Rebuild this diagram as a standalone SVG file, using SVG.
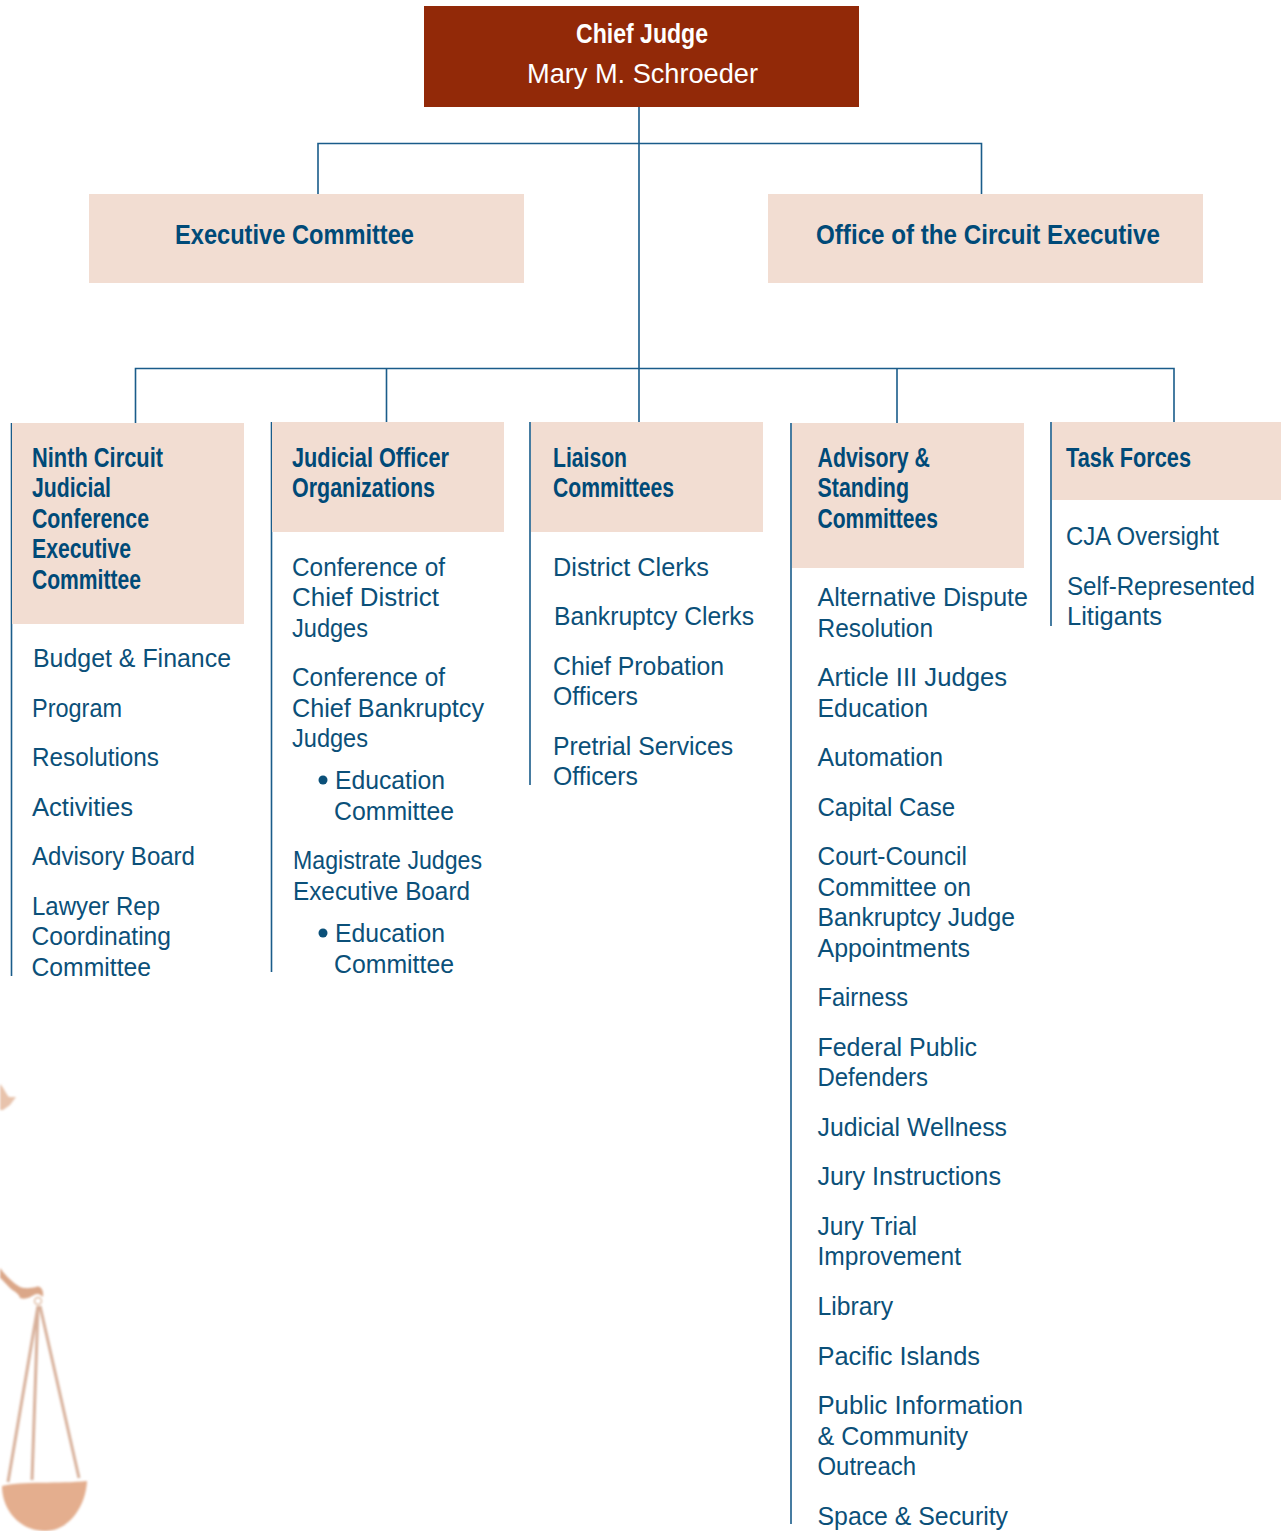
<svg xmlns="http://www.w3.org/2000/svg" width="1281" height="1531" viewBox="0 0 1281 1531">
<defs><filter id="soft" x="-10%" y="-10%" width="120%" height="120%"><feGaussianBlur stdDeviation="0.9"/></filter></defs>
<style>
text{font-family:"Liberation Sans",Arial,sans-serif;font-size:26.500px;fill:#0b5079}
.b{font-weight:700;fill:#004a78;font-size:27px}
.t{font-size:28px}
.w{fill:#fff}
.box{fill:#f2ddd2}
.ln{fill:none;stroke:#1a5c8a;stroke-width:1.600}
</style>
<rect width="1281" height="1531" fill="#fff"/>
<g id="scales" filter="url(#soft)">
<path d="M0 1084C4 1088 6 1094 9 1097L16 1097 10 1105 3 1110 0 1110Z" fill="#e8c3ac"/>
<path d="M0 1268C6 1276 13 1283 20 1287 26 1289 31 1288 36 1287 41 1285 44 1291 43 1297 40 1294 37 1293 34 1295 30 1297 26 1300 20 1298 19 1293 14 1292 9 1287 5 1283 2 1279 0 1278Z" fill="#dba789"/>
<circle cx="38" cy="1301" r="3.500" fill="none" stroke="#e2bfa8" stroke-width="1.500"/>
<g fill="none" stroke="#d8b19b" stroke-width="3"><path d="M38 1306L8 1482M38 1306L32 1480M40 1306L79 1478"/></g>
<path d="M2 1486C20 1481 60 1484 87 1481 86 1505 70 1531 45 1531 20 1531 2 1510 2 1486Z" fill="#e4ae8e"/>
</g>
<g id="connectors">
<path class="ln" d="M639 107V422M318 194V143.500H981.500V194M135.500 423V368.500H1174V422M386.500 368.500V422M897 368.500V423"/>
<path class="ln" d="M11.500 423V976M271.500 422V972M530 422V785M791 423V1524M1051 422V626"/>
</g>
<g id="chief-judge"><rect x="424" y="6" width="435" height="101" fill="#922908"/>
<text class="b t w" style="fill:#fff" x="576" y="43" textLength="132" lengthAdjust="spacingAndGlyphs">Chief Judge</text>
<text class="t w" style="fill:#fff" x="527" y="83" textLength="231" lengthAdjust="spacingAndGlyphs">Mary M. Schroeder</text></g>
<g id="executive-committee"><rect class="box" x="89" y="194" width="435" height="89"/>
<text class="b t" x="175" y="244" textLength="239" lengthAdjust="spacingAndGlyphs">Executive Committee</text></g>
<g id="circuit-executive"><rect class="box" x="768" y="194" width="435" height="89"/>
<text class="b t" x="816" y="244" textLength="344" lengthAdjust="spacingAndGlyphs">Office of the Circuit Executive</text></g>
<g id="col-ninth-circuit"><rect class="box" x="12" y="423" width="232" height="201"/>
<text class="b" x="32" y="467" textLength="131" lengthAdjust="spacingAndGlyphs">Ninth Circuit</text>
<text class="b" x="32" y="497" textLength="79" lengthAdjust="spacingAndGlyphs">Judicial</text>
<text class="b" x="32" y="528" textLength="117" lengthAdjust="spacingAndGlyphs">Conference</text>
<text class="b" x="32" y="558" textLength="99" lengthAdjust="spacingAndGlyphs">Executive</text>
<text class="b" x="32" y="589" textLength="109" lengthAdjust="spacingAndGlyphs">Committee</text>
<text x="33" y="667" textLength="198" lengthAdjust="spacingAndGlyphs">Budget &amp; Finance</text>
<text x="32" y="717" textLength="90" lengthAdjust="spacingAndGlyphs">Program</text>
<text x="32" y="766" textLength="127" lengthAdjust="spacingAndGlyphs">Resolutions</text>
<text x="32" y="816" textLength="101" lengthAdjust="spacingAndGlyphs">Activities</text>
<text x="32" y="865" textLength="163" lengthAdjust="spacingAndGlyphs">Advisory Board</text>
<text x="32" y="915" textLength="128" lengthAdjust="spacingAndGlyphs">Lawyer Rep</text>
<text x="31.500" y="945" textLength="139.500" lengthAdjust="spacingAndGlyphs">Coordinating</text>
<text x="31.500" y="976" textLength="119.500" lengthAdjust="spacingAndGlyphs">Committee</text></g>
<g id="col-judicial-officer"><rect class="box" x="272" y="422" width="232" height="110"/>
<text class="b" x="292" y="467" textLength="157" lengthAdjust="spacingAndGlyphs">Judicial Officer</text>
<text class="b" x="292" y="497" textLength="143" lengthAdjust="spacingAndGlyphs">Organizations</text>
<text x="292" y="576" textLength="153" lengthAdjust="spacingAndGlyphs">Conference of</text>
<text x="292" y="606" textLength="147" lengthAdjust="spacingAndGlyphs">Chief District</text>
<text x="292" y="637" textLength="76" lengthAdjust="spacingAndGlyphs">Judges</text>
<text x="292" y="686" textLength="153" lengthAdjust="spacingAndGlyphs">Conference of</text>
<text x="292" y="717" textLength="192" lengthAdjust="spacingAndGlyphs">Chief Bankruptcy</text>
<text x="292" y="747" textLength="76" lengthAdjust="spacingAndGlyphs">Judges</text>
<circle cx="323" cy="780" r="4.500" fill="#0b5079"/>
<text x="335" y="789" textLength="110" lengthAdjust="spacingAndGlyphs">Education</text>
<text x="334" y="820" textLength="120" lengthAdjust="spacingAndGlyphs">Committee</text>
<text x="293" y="869" textLength="189" lengthAdjust="spacingAndGlyphs">Magistrate Judges</text>
<text x="293" y="900" textLength="177" lengthAdjust="spacingAndGlyphs">Executive Board</text>
<circle cx="323" cy="933" r="4.500" fill="#0b5079"/>
<text x="335" y="942" textLength="110" lengthAdjust="spacingAndGlyphs">Education</text>
<text x="334" y="973" textLength="120" lengthAdjust="spacingAndGlyphs">Committee</text></g>
<g id="col-liaison"><rect class="box" x="531" y="422" width="232" height="110"/>
<text class="b" x="553" y="467" textLength="74" lengthAdjust="spacingAndGlyphs">Liaison</text>
<text class="b" x="553" y="497" textLength="121" lengthAdjust="spacingAndGlyphs">Committees</text>
<text x="553" y="576" textLength="156" lengthAdjust="spacingAndGlyphs">District Clerks</text>
<text x="554" y="625" textLength="200" lengthAdjust="spacingAndGlyphs">Bankruptcy Clerks</text>
<text x="553" y="675" textLength="171" lengthAdjust="spacingAndGlyphs">Chief Probation</text>
<text x="553" y="705" textLength="85" lengthAdjust="spacingAndGlyphs">Officers</text>
<text x="553" y="755" textLength="180" lengthAdjust="spacingAndGlyphs">Pretrial Services</text>
<text x="553" y="785" textLength="85" lengthAdjust="spacingAndGlyphs">Officers</text></g>
<g id="col-advisory"><rect class="box" x="792" y="423" width="232" height="145"/>
<text class="b" x="817.500" y="467" textLength="112.500" lengthAdjust="spacingAndGlyphs">Advisory &amp;</text>
<text class="b" x="817.500" y="497" textLength="91.500" lengthAdjust="spacingAndGlyphs">Standing</text>
<text class="b" x="817.500" y="528" textLength="120.500" lengthAdjust="spacingAndGlyphs">Committees</text>
<text x="817.500" y="606" textLength="210.500" lengthAdjust="spacingAndGlyphs">Alternative Dispute</text>
<text x="817.500" y="637" textLength="115.500" lengthAdjust="spacingAndGlyphs">Resolution</text>
<text x="817.500" y="686" textLength="189.500" lengthAdjust="spacingAndGlyphs">Article III Judges</text>
<text x="817.500" y="717" textLength="110.500" lengthAdjust="spacingAndGlyphs">Education</text>
<text x="817.500" y="766" textLength="125.500" lengthAdjust="spacingAndGlyphs">Automation</text>
<text x="817.500" y="816" textLength="137.500" lengthAdjust="spacingAndGlyphs">Capital Case</text>
<text x="817.500" y="865" textLength="149.500" lengthAdjust="spacingAndGlyphs">Court-Council</text>
<text x="817.500" y="896" textLength="153.500" lengthAdjust="spacingAndGlyphs">Committee on</text>
<text x="817.500" y="926" textLength="197.500" lengthAdjust="spacingAndGlyphs">Bankruptcy Judge</text>
<text x="817.500" y="957" textLength="152.500" lengthAdjust="spacingAndGlyphs">Appointments</text>
<text x="817.500" y="1006" textLength="90.500" lengthAdjust="spacingAndGlyphs">Fairness</text>
<text x="817.500" y="1056" textLength="159.500" lengthAdjust="spacingAndGlyphs">Federal Public</text>
<text x="817.500" y="1086" textLength="110.500" lengthAdjust="spacingAndGlyphs">Defenders</text>
<text x="817.500" y="1136" textLength="189.500" lengthAdjust="spacingAndGlyphs">Judicial Wellness</text>
<text x="817.500" y="1185" textLength="183.500" lengthAdjust="spacingAndGlyphs">Jury Instructions</text>
<text x="817.500" y="1235" textLength="99.500" lengthAdjust="spacingAndGlyphs">Jury Trial</text>
<text x="817.500" y="1265" textLength="143.500" lengthAdjust="spacingAndGlyphs">Improvement</text>
<text x="817.500" y="1315" textLength="75.500" lengthAdjust="spacingAndGlyphs">Library</text>
<text x="817.500" y="1365" textLength="162.500" lengthAdjust="spacingAndGlyphs">Pacific Islands</text>
<text x="817.500" y="1414" textLength="205.500" lengthAdjust="spacingAndGlyphs">Public Information</text>
<text x="817.500" y="1445" textLength="150.500" lengthAdjust="spacingAndGlyphs">&amp; Community</text>
<text x="817.500" y="1475" textLength="98.500" lengthAdjust="spacingAndGlyphs">Outreach</text>
<text x="817.500" y="1525" textLength="190.500" lengthAdjust="spacingAndGlyphs">Space &amp; Security</text></g>
<g id="col-task-forces"><rect class="box" x="1052" y="422" width="229" height="78"/>
<text class="b" x="1066" y="467" textLength="125" lengthAdjust="spacingAndGlyphs">Task Forces</text>
<text x="1066" y="545" textLength="153" lengthAdjust="spacingAndGlyphs">CJA Oversight</text>
<text x="1067" y="595" textLength="188" lengthAdjust="spacingAndGlyphs">Self-Represented</text>
<text x="1067" y="625" textLength="95" lengthAdjust="spacingAndGlyphs">Litigants</text></g>
</svg>
